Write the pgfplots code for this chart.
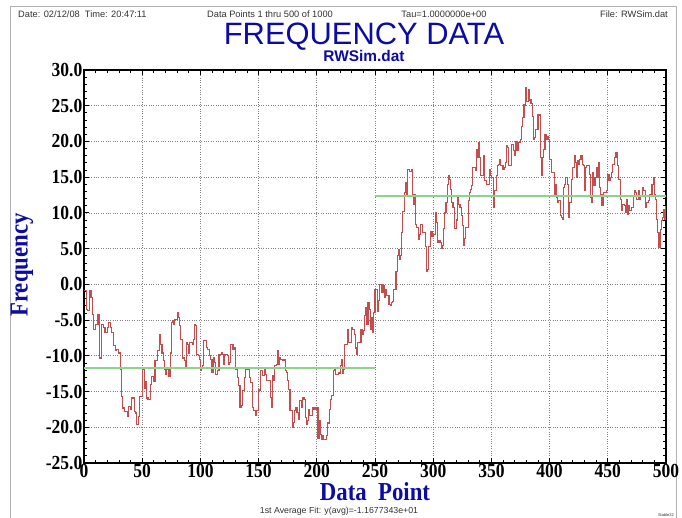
\documentclass[border=0pt]{standalone}
\usepackage{fontspec}
\usepackage{pgfplots}
\usepackage{pgfplotstable}
\pgfplotsset{compat=1.18}
\setmainfont{Liberation Sans}
\newfontfamily\serifcond{Liberation Serif}[FakeStretch=0.88]

\definecolor{titleblue}{RGB}{12,12,165}
\definecolor{datared}{RGB}{196,78,78}
\definecolor{avggreen}{RGB}{140,212,140}
\definecolor{gridgray}{RGB}{130,130,130}
\definecolor{headgray}{RGB}{50,50,50}

% Random-walk frequency record, points 1..500
\pgfplotstableread{
x y
0 -0.9
2 -3.5
3 -3.7
5 -0.9
6 -1.9
7 -4.2
8 -6.3
10 -5.6
12 -4.2
13 -10.3
15 -5.6
17 -6.1
18 -6.8
20 -6.1
21 -5.4
23 -6.1
24 -6.8
25 -8.6
27 -9.3
28 -9.1
30 -9.6
31 -11.9
32 -15.7
33 -17.3
35 -17.8
37 -18.5
38 -17.1
40 -17.5
41 -15.9
43 -17.8
44 -18.0
45 -19.6
47 -18.5
48 -15.7
50 -11.9
52 -14.5
53 -13.6
54 -15.9
55 -16.1
57 -14.0
58 -12.9
60 -13.6
61 -10.7
63 -9.3
65 -7.0
66 -8.4
67 -9.6
68 -10.7
69 -11.9
70 -12.6
71 -11.9
73 -12.9
74 -9.6
75 -5.4
76 -5.1
77 -5.6
78 -4.9
80 -4.0
81 -4.7
82 -5.8
83 -7.7
85 -10.3
86 -10.7
87 -11.7
88 -8.2
89 -8.4
90 -9.6
91 -8.2
93 -8.4
94 -7.7
95 -5.6
96 -5.8
97 -9.8
98 -10.0
99 -10.5
100 -12.1
101 -11.6
102 -11.4
103 -7.9
105 -8.8
106 -9.1
108 -10.0
109 -10.5
110 -12.3
111 -10.2
112 -10.9
113 -12.6
115 -12.1
116 -9.8
118 -9.5
119 -9.8
120 -11.2
121 -9.8
123 -10.0
124 -11.2
125 -10.9
126 -8.4
128 -9.1
129 -8.8
130 -11.9
132 -13.0
133 -14.2
134 -17.2
135 -17.0
136 -14.9
138 -13.0
139 -11.6
140 -11.9
142 -13.0
143 -13.7
145 -17.2
146 -17.7
147 -18.4
148 -17.7
150 -14.7
151 -14.9
152 -12.1
153 -12.8
155 -11.9
156 -12.6
157 -13.5
160 -15.8
161 -17.2
162 -12.8
163 -13.5
164 -11.4
165 -11.2
166 -9.3
167 -11.2
168 -10.2
169 -10.5
171 -10.7
172 -10.5
173 -12.1
174 -12.3
175 -13.5
176 -14.7
177 -17.7
179 -20.0
180 -19.3
181 -17.7
182 -17.2
183 -17.9
184 -18.9
185 -16.3
187 -17.2
188 -15.8
189 -16.1
190 -18.6
191 -19.6
192 -19.1
193 -17.5
194 -18.4
196 -17.2
197 -17.5
198 -17.2
199 -17.5
200 -17.3
201 -21.5
202 -19.1
203 -21.0
204 -21.7
205 -21.2
206 -21.7
208 -21.2
209 -19.4
211 -17.5
212 -16.1
213 -15.6
214 -12.1
215 -11.7
216 -12.6
219 -12.4
220 -11.4
221 -10.5
222 -12.4
223 -11.9
224 -8.4
226 -6.3
227 -8.2
230 -6.1
231 -6.3
232 -7.0
233 -8.9
234 -9.8
235 -8.2
238 -6.3
239 -7.0
240 -6.5
241 -4.4
242 -3.3
243 -5.6
244 -2.6
245 -3.5
246 -6.3
247 -4.7
248 -6.8
249 -4.0
250 -0.7
252 -3.8
253 -2.3
254 0.0
256 -1.2
257 -0.2
258 -1.9
259 -0.7
260 -1.6
262 -2.8
263 -3.0
264 -2.6
265 -2.4
266 -0.7
268 1.8
269 4.0
270 4.9
271 3.5
272 4.0
273 7.2
274 10.2
275 12.8
276 14.2
277 12.6
278 16.1
280 15.8
281 16.1
282 12.6
283 11.2
284 12.6
285 8.4
286 7.9
287 6.3
288 7.0
289 8.4
291 7.2
293 5.3
294 1.8
295 2.1
296 5.3
298 7.4
299 6.7
300 7.0
302 10.1
303 8.7
304 5.9
305 6.1
306 5.9
307 5.0
308 5.5
309 7.8
310 10.1
311 11.5
312 14.0
313 15.2
314 14.7
315 13.3
316 11.5
317 10.8
318 7.8
320 9.0
321 12.4
322 11.2
323 10.8
324 9.6
325 8.2
326 5.5
327 6.4
328 8.0
330 11.7
331 12.9
332 13.3
333 13.8
334 16.3
336 15.9
337 18.9
338 17.7
339 19.8
340 17.7
341 15.2
343 18.0
344 14.5
346 14.0
348 16.1
349 15.2
350 15.0
352 10.8
353 13.1
354 15.2
355 16.6
356 16.8
357 17.5
358 16.6
360 16.1
361 16.3
362 17.0
363 19.4
364 19.2
365 16.6
367 19.6
369 18.7
370 18.0
371 20.0
372 18.7
373 19.8
375 20.3
376 22.1
377 23.3
378 25.1
379 27.5
380 25.6
382 27.2
383 25.8
384 25.3
385 23.5
386 20.3
387 20.5
388 21.7
390 23.7
392 17.7
393 15.2
394 17.7
395 18.9
396 21.0
397 20.3
398 20.7
399 20.3
400 17.5
402 15.7
404 12.4
405 14.0
406 12.2
407 11.5
408 11.7
409 9.6
410 9.4
411 9.1
412 13.6
413 14.0
414 15.0
415 14.0
416 9.4
417 11.5
419 14.7
420 16.4
421 18.0
422 17.1
423 15.0
424 17.3
425 16.8
426 17.5
427 18.0
428 16.8
429 16.6
430 13.1
431 16.4
432 16.6
434 15.4
435 12.2
436 11.5
437 15.7
438 13.8
439 15.0
440 16.4
441 15.0
442 17.1
443 13.6
444 12.6
445 11.0
446 12.9
449 13.1
450 15.4
451 14.5
452 15.0
453 15.7
454 16.8
456 17.8
457 18.5
458 16.6
459 14.7
461 11.9
462 10.3
463 11.2
464 11.0
465 10.1
466 11.9
467 9.8
468 11.0
469 10.3
470 10.8
472 12.4
473 13.1
474 12.9
475 11.9
476 13.1
477 11.9
478 12.4
480 13.6
481 13.1
482 10.8
483 11.5
485 11.7
486 12.6
488 14.0
489 15.0
490 12.6
491 11.9
492 9.1
493 7.3
494 5.2
495 7.7
496 8.9
497 9.4
498 10.5
499 9.1
500 11.0
}\freqdata

\begin{document}
\begin{tikzpicture}[x=1bp,y=1bp]
\path[use as bounding box] (0,0) rectangle (682,518);
% page frame
\draw[gray!60, line width=0.8bp] (10,-2) -- (10,512) -- (676,512) -- (676,-2);

% header line
\begin{scope}[every node/.style={inner sep=0pt, text=headgray, font=\fontsize{9.3}{9.3}\selectfont}]
\node[anchor=west] at (18,504) {Date: 02/12/08\ \ Time: 20:47:11};
\node at (270,504) {Data Points 1 thru 500 of 1000};
\node at (444,504) {Tau=1.0000000e+00};
\node[anchor=east] at (668,504) {File: RWSim.dat};
\end{scope}

% titles
\node[anchor=base, inner sep=0pt, text=titleblue, font=\fontsize{31}{31}\selectfont] at (364,473) {FREQUENCY DATA};
\node[anchor=base, inner sep=0pt, text=titleblue, font=\bfseries\fontsize{15.5}{15.5}\selectfont] at (364,456.5) {RWSim.dat};

\begin{axis}[
  at={(84bp,55bp)}, anchor=south west,
  scale only axis, width=582bp, height=393bp,
  xmin=0, xmax=500, ymin=-25, ymax=30,
  xtick={0,50,...,500},
  ytick={-25,-20,...,30},
  yticklabels={-25.0,-20.0,-15.0,-10.0,-5.0,0.0,5.0,10.0,15.0,20.0,25.0,30.0},
  xticklabels={0,50,100,150,200,250,300,350,400,450,500},
  minor x tick num=4, minor y tick num=4,
  tick align=inside, tick pos=both,
  major tick length=5bp, minor tick length=3bp,
  every tick/.style={black, line width=0.8bp},
  grid=major,
  major grid style={gridgray, dotted, line width=0.7bp},
  axis line style={black, line width=1.3bp},
  tick label style={font=\serifcond\bfseries\fontsize{20}{20}\selectfont, inner sep=1.5bp},
  clip=true,
]
\addplot[const plot, datared, line width=1.1bp] table[x=x, y=y] {\freqdata};
\addplot[avggreen, line width=1.8bp] coordinates {(0,-11.677343) (250,-11.677343)};
\addplot[avggreen, line width=1.8bp] coordinates {(250,12.4) (500,12.4)};
\end{axis}

% axis titles
\node[rotate=90, inner sep=0pt, text=titleblue, font=\serifcond\bfseries\fontsize{26}{26}\selectfont] at (22,253) {Frequency};
\node[inner sep=0pt, text=titleblue, font=\serifcond\bfseries\fontsize{26}{26}\selectfont] at (375,26) {Data\ \ Point};

% footer
\node[inner sep=0pt, text=headgray, font=\fontsize{8.8}{8.8}\selectfont] at (339,7) {1st Average Fit: y(avg)=-1.1677343e+01};
\node[anchor=south east, inner sep=0pt, text=headgray, font=\fontsize{4}{4}\selectfont] at (674,1) {Stable32};
\end{tikzpicture}
\end{document}
